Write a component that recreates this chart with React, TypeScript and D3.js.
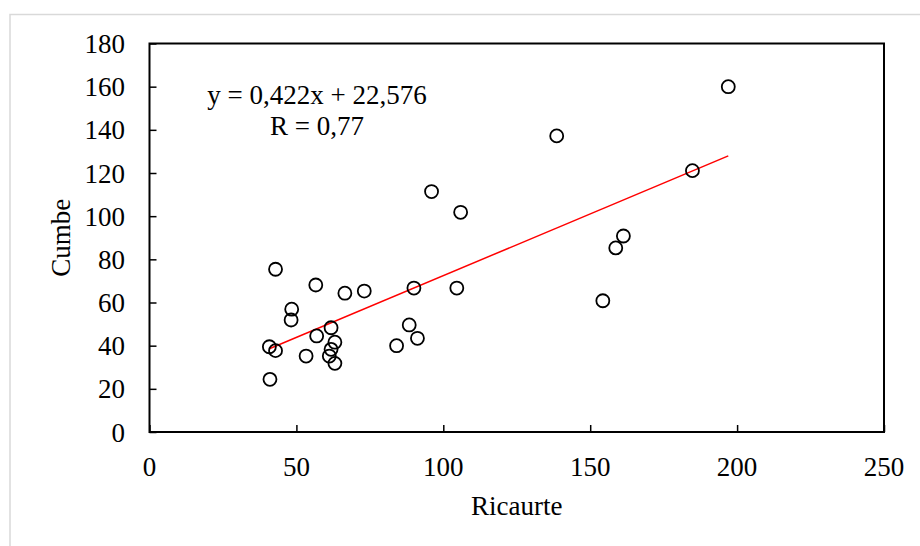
import React, { useEffect, useRef } from "react";
import * as d3 from "d3";

// Ricaurte (x) vs Cumbe (y) values
const ricaurte = [
  42.9, 56.6, 66.5, 73.1, 48.4, 48.2, 61.8, 56.9, 40.8, 42.9, 63.1, 61.8, 61.2, 63.1, 53.3, 41.0,
  96.0, 105.9, 90.0, 104.6, 88.4, 91.2, 84.1,
  197.0, 138.6, 184.8, 161.3, 158.7, 154.3,
];
const cumbe = [
  75.4, 68.1, 64.3, 65.3, 56.9, 51.9, 48.3, 44.5, 39.5, 37.7, 41.6, 38.3, 35.2, 31.8, 35.2, 24.4,
  111.4, 101.8, 66.7, 66.7, 49.6, 43.4, 40.0,
  160.0, 137.2, 121.1, 90.8, 85.3, 60.8,
];
const xTicks = [0, 50, 100, 150, 200, 250];
const yTicks = [0, 20, 40, 60, 80, 100, 120, 140, 160, 180];
const equationLines = ["y = 0,422x + 22,576", "R = 0,77"];
const xTitle = "Ricaurte";
const yTitle = "Cumbe";

const W = 920;
const H = 546;
const plot = { left: 149.5, right: 884, top: 43.5, bottom: 432 };
const font = "'Liberation Serif', 'Times New Roman', serif";

export default function App() {
  const ref = useRef<SVGSVGElement>(null);

  useEffect(() => {
    const svg = d3.select(ref.current).html("");

    const x = d3.scaleLinear().domain([0, 250]).range([plot.left, plot.right]);
    const y = d3.scaleLinear().domain([0, 180]).range([plot.bottom, plot.top]);

    // outer light border of the chart area
    svg.append("rect")
      .attr("x", 10).attr("y", 14.5)
      .attr("width", W + 20).attr("height", H + 20)
      .attr("fill", "white")
      .attr("stroke", "#d9d9d9").attr("stroke-width", 1.5);

    // plot frame
    svg.append("rect")
      .attr("x", plot.left).attr("y", plot.top)
      .attr("width", plot.right - plot.left).attr("height", plot.bottom - plot.top)
      .attr("fill", "none").attr("stroke", "black").attr("stroke-width", 2);

    // y axis (ticks inward)
    const yAxis = svg.append("g")
      .attr("transform", `translate(${plot.left},0)`)
      .call(d3.axisRight(y).tickValues(yTicks).tickSize(7).tickFormat(() => ""));
    yAxis.select(".domain").remove();
    yAxis.selectAll("line").attr("stroke", "black").attr("stroke-width", 1.5);

    svg.append("g").selectAll("text")
      .data(yTicks).enter().append("text")
      .attr("x", 125).attr("y", (d) => y(d) + 9.5)
      .attr("text-anchor", "end")
      .attr("font-family", font).attr("font-size", 27)
      .text((d) => d);

    // x axis (ticks inward)
    const xAxis = svg.append("g")
      .attr("transform", `translate(0,${plot.bottom})`)
      .call(d3.axisTop(x).tickValues(xTicks).tickSize(7).tickFormat(() => ""));
    xAxis.select(".domain").remove();
    xAxis.selectAll("line").attr("stroke", "black").attr("stroke-width", 1.5);

    svg.append("g").selectAll("text")
      .data(xTicks).enter().append("text")
      .attr("x", (d) => x(d)).attr("y", 476)
      .attr("text-anchor", "middle")
      .attr("font-family", font).attr("font-size", 27)
      .text((d) => d);

    // axis titles
    svg.append("text")
      .attr("x", (plot.left + plot.right) / 2).attr("y", 515)
      .attr("text-anchor", "middle")
      .attr("font-family", font).attr("font-size", 27)
      .text(xTitle);
    svg.append("text")
      .attr("transform", `translate(70,${(plot.top + plot.bottom) / 2}) rotate(-90)`)
      .attr("text-anchor", "middle")
      .attr("font-family", font).attr("font-size", 27)
      .text(yTitle);

    // least squares trend line over the data range
    const n = ricaurte.length;
    const mx = d3.mean(ricaurte) as number;
    const my = d3.mean(cumbe) as number;
    let sxy = 0, sxx = 0;
    for (let i = 0; i < n; i++) {
      sxy += (ricaurte[i] - mx) * (cumbe[i] - my);
      sxx += (ricaurte[i] - mx) ** 2;
    }
    const slope = sxy / sxx;
    const icpt = my - slope * mx;
    const [x0, x1] = d3.extent(ricaurte) as [number, number];
    svg.append("line")
      .attr("x1", x(x0)).attr("y1", y(icpt + slope * x0))
      .attr("x2", x(x1)).attr("y2", y(icpt + slope * x1))
      .attr("stroke", "#ff0000").attr("stroke-width", 1.5);

    // points
    svg.append("g").selectAll("circle")
      .data(d3.range(n)).enter().append("circle")
      .attr("cx", (i) => x(ricaurte[i]))
      .attr("cy", (i) => y(cumbe[i]))
      .attr("r", 6.5)
      .attr("fill", "none")
      .attr("stroke", "black").attr("stroke-width", 1.8);

    // equation label
    svg.append("g").selectAll("text")
      .data(equationLines).enter().append("text")
      .attr("x", 317).attr("y", (d, i) => 104 + i * 31)
      .attr("text-anchor", "middle")
      .attr("font-family", font).attr("font-size", 27)
      .text((d) => d);
  }, []);

  return (
    <svg ref={ref} width={W} height={H}
      style={{ position: "absolute", left: 0, top: 0, background: "white" }} />
  );
}
